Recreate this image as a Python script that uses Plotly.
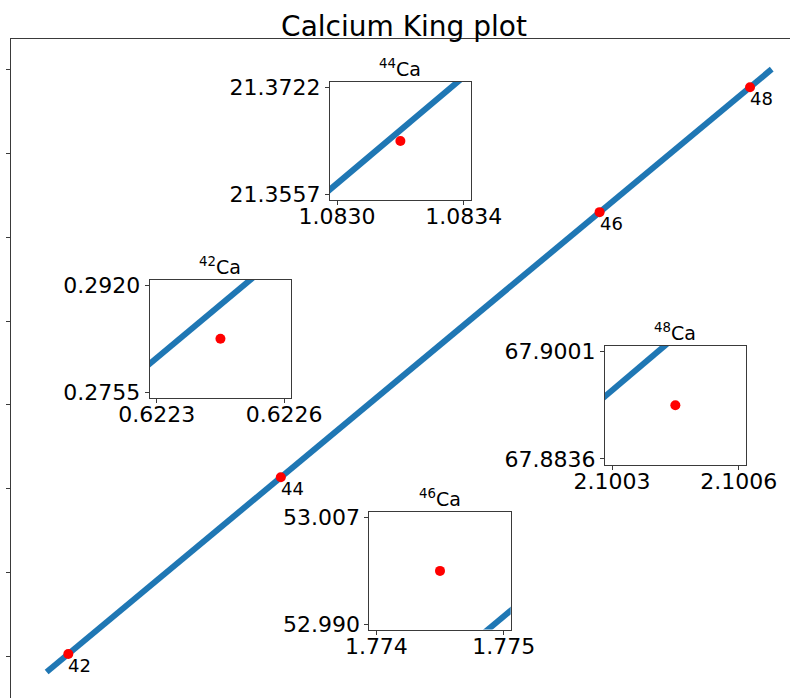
import numpy as np
import plotly.graph_objects as go

# ---------------- data ----------------
isotopes = ["42", "44", "46", "48"]
inset_titles = ["<sup>42</sup>Ca", "<sup>44</sup>Ca", "<sup>46</sup>Ca", "<sup>48</sup>Ca"]
x_vals = [0.62245, 1.083176, 1.774325, 2.10045]
y_vals = [0.28375, 21.36395, 52.9986, 67.89185]
fit_slope = 45.74652
fit_intercept = -28.18591
line_x_ends = [0.5755, 2.1475]
main_yticks = [0, 10, 20, 30, 40, 50, 60, 70]
inset_xticklabels = [["0.6223", "0.6226"], ["1.0830", "1.0834"], ["1.774", "1.775"], ["2.1003", "2.1006"]]
inset_yticklabels = [["0.2755", "0.2920"], ["21.3557", "21.3722"], ["52.990", "53.007"], ["67.8836", "67.9001"]]
inset_half_x = 0.0002      # inset x half-range
inset_half_y = 0.0091      # inset y half-range
tick_half_x = 0.00018      # tick offsets from the point
tick_half_y = 0.00825

# ---------------- layout geometry ----------------
W, H = 790, 698
L, T = 11, 39
PW, PH = W - L, H - T
# inset frames in pixels: (x0, x1, y0, y1)
inset_frames = [(149.7, 291.2, 280, 397.5),
                (330, 470.8, 82, 200),
                (369.3, 510.7, 512.3, 629.5),
                (605, 745.7, 346, 464.5)]

def px2paper_x(p):
    return (p - L) / PW

def px2paper_y(p):
    return (H - p) / PH

FONT = "DejaVu Sans"
BLUE = "#1f77b4"
RED = "#ff0000"
AX = "#3a3a3a"

def fit(x):
    return fit_slope * np.asarray(x) + fit_intercept

fig = go.Figure()

# main line and points
fig.add_trace(go.Scatter(x=line_x_ends, y=fit(line_x_ends).tolist(), mode="lines",
                         line=dict(color=BLUE, width=6), hoverinfo="skip", showlegend=False))
fig.add_trace(go.Scatter(x=x_vals, y=y_vals, mode="markers",
                         marker=dict(color=RED, size=10), showlegend=False, cliponaxis=False))

annotations = []
for xv, yv, lab in zip(x_vals, y_vals, isotopes):
    annotations.append(dict(x=xv, y=yv, xref="x", yref="y", text=lab, showarrow=False,
                            xanchor="left", yanchor="top", xshift=-2, yshift=1,
                            font=dict(family=FONT, size=18, color="black")))

layout_axes = {}
for i in range(4):
    n = i + 2
    xc, yc = x_vals[i], y_vals[i]
    xs = [xc - inset_half_x * 1.2, xc + inset_half_x * 1.2]
    fig.add_trace(go.Scatter(x=xs, y=fit(xs).tolist(), mode="lines",
                             line=dict(color=BLUE, width=6), xaxis=f"x{n}", yaxis=f"y{n}",
                             hoverinfo="skip", showlegend=False))
    fig.add_trace(go.Scatter(x=[xc], y=[yc], mode="markers", marker=dict(color=RED, size=10),
                             xaxis=f"x{n}", yaxis=f"y{n}", showlegend=False))
    x0, x1, y0, y1 = inset_frames[i]
    common = dict(showline=True, mirror=True, linecolor=AX, linewidth=1, showgrid=False,
                  zeroline=False, ticks="outside", ticklen=4, tickcolor=AX, tickwidth=1,
                  tickfont=dict(family=FONT, size=22, color="black"), tickmode="array",
                  automargin=False)
    layout_axes[f"xaxis{n}"] = dict(domain=[px2paper_x(x0), px2paper_x(x1)], anchor=f"y{n}",
                                    range=[xc - inset_half_x, xc + inset_half_x],
                                    tickvals=[xc - tick_half_x, xc + tick_half_x],
                                    ticktext=inset_xticklabels[i], ticklabelstandoff=-7,
                                    **common)
    layout_axes[f"yaxis{n}"] = dict(domain=[px2paper_y(y1), px2paper_y(y0)], anchor=f"x{n}",
                                    range=[yc - inset_half_y, yc + inset_half_y],
                                    tickvals=[yc - tick_half_y, yc + tick_half_y],
                                    ticktext=inset_yticklabels[i], **common)
    annotations.append(dict(x=px2paper_x((x0 + x1) / 2), y=px2paper_y(y0), xref="paper", yref="paper",
                            text=inset_titles[i], showarrow=False, xanchor="center", yanchor="bottom",
                            yshift=0, font=dict(family=FONT, size=19, color="black")))

# main axes ranges (in data units)
main_xrange = [0.49822, 2.18718]
main_yrange = [-4.9656, 73.655]

fig.update_layout(
    width=W, height=H,
    margin=dict(l=L, r=0, t=T, b=0, pad=0, autoexpand=False),
    paper_bgcolor="white", plot_bgcolor="white",
    showlegend=False,
    title=dict(text="Calcium King plot", x=404 / W, xanchor="center", xref="container",
               y=1 - 26 / H, yanchor="middle", yref="container", automargin=False,
               font=dict(family=FONT, size=28, color="black")),
    xaxis=dict(domain=[0, 1], range=main_xrange, side="top", showline=True, linecolor=AX,
               linewidth=1, showgrid=False, zeroline=False, ticks="", showticklabels=False,
               anchor="y", automargin=False),
    yaxis=dict(domain=[0, 1], range=main_yrange, showline=True, linecolor=AX, linewidth=1,
               showgrid=False, zeroline=False, ticks="outside", ticklen=4, tickcolor=AX,
               tickvals=main_yticks, showticklabels=False, anchor="x", automargin=False),
    annotations=annotations,
    **layout_axes,
)

fig.write_html("out.html")
